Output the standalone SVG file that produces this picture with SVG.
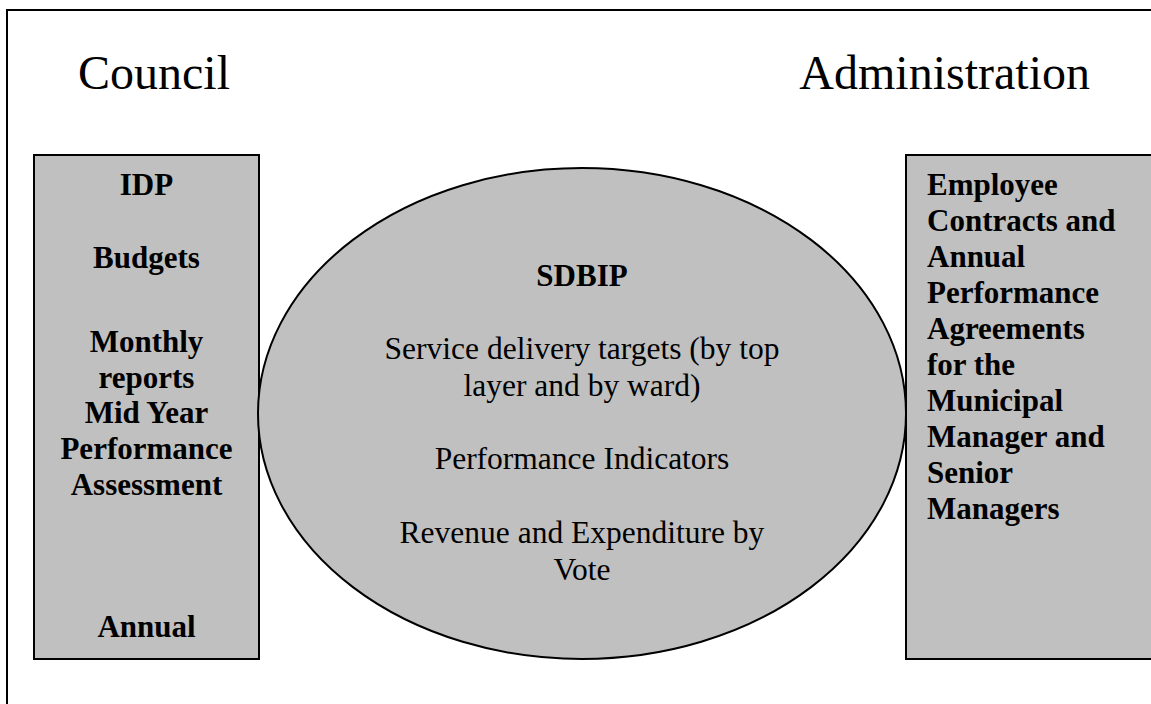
<svg xmlns="http://www.w3.org/2000/svg" width="1151" height="704" viewBox="0 0 1151 704">
<style>
.t{font-family:"Liberation Serif","Times New Roman",serif;fill:#000}
.h{font-size:48px}
.b{font-size:31px;font-weight:bold}
.r{font-size:31.5px}
.box{fill:#c0c0c0;stroke:#000;stroke-width:2}
</style>
<rect x="0" y="0" width="1151" height="704" fill="#fff"/>
<rect id="frame" x="7" y="10" width="1300" height="900" fill="none" stroke="#000" stroke-width="2"/>
<text class="t h" x="78" y="89">Council</text>
<text class="t h" x="1090" y="89" text-anchor="end">Administration</text>
<g id="connectors"></g>
<g id="council">
<rect class="box" x="34" y="155" width="225" height="504"/>
<g class="t b" text-anchor="middle">
<text x="146.5" y="195">IDP</text>
<text x="146.5" y="268">Budgets</text>
<text x="146.5" y="352">Monthly</text>
<text x="146.5" y="388">reports</text>
<text x="146.5" y="423">Mid Year</text>
<text x="146.5" y="459">Performance</text>
<text x="146.5" y="495">Assessment</text>
<text x="146.5" y="637">Annual</text>
</g>
</g>
<g id="administration">
<rect class="box" x="906" y="155" width="300" height="504"/>
<g class="t b">
<text x="927" y="195">Employee</text>
<text x="927" y="231">Contracts and</text>
<text x="927" y="267">Annual</text>
<text x="927" y="303">Performance</text>
<text x="927" y="339">Agreements</text>
<text x="927" y="375">for the</text>
<text x="927" y="411">Municipal</text>
<text x="927" y="447">Manager and</text>
<text x="927" y="483">Senior</text>
<text x="927" y="519">Managers</text>
</g>
</g>
<g id="sdbip">
<ellipse class="box" cx="582" cy="413.5" rx="324" ry="245.5"/>
<text class="t b" x="582" y="286" text-anchor="middle">SDBIP</text>
<g class="t r" text-anchor="middle">
<text x="582" y="359">Service delivery targets (by top</text>
<text x="582" y="396">layer and by ward)</text>
<text x="582" y="469">Performance Indicators</text>
<text x="582" y="543">Revenue and Expenditure by</text>
<text x="582" y="580">Vote</text>
</g>
</g>
</svg>
